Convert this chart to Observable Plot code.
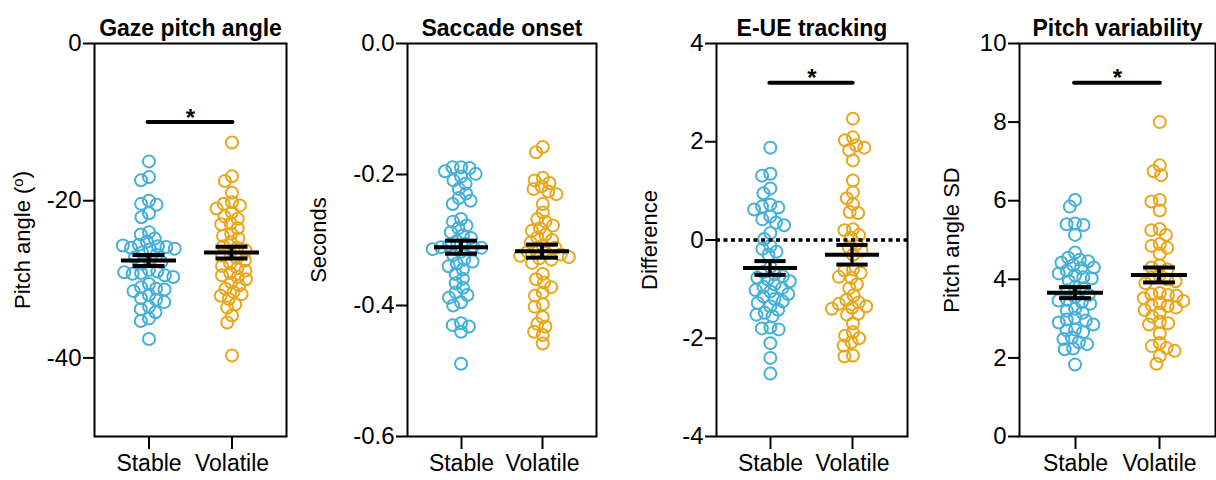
<!DOCTYPE html>
<html><head><meta charset="utf-8">
<script src="https://cdn.jsdelivr.net/npm/d3@7"></script>
<script src="https://cdn.jsdelivr.net/npm/@observablehq/plot@0.6"></script>
<style>
body{margin:0;background:#fff;}
#wrap{position:relative;width:1216px;height:480px;overflow:hidden;background:#fff;}
.panel{position:absolute;top:0;}
.panel svg{overflow:visible;}
svg g[aria-label="y-axis tick"], svg g[aria-label="x-axis tick"]{stroke-width:2px;}
svg .tick line{stroke-width:2px;}
svg g[aria-label="y-axis tick label"]{font-size:24px;}
svg g[aria-label="x-axis tick label"]{font-size:23px;}
</style></head><body><div id="wrap"></div>
<script>
const groups = ["Stable", "Volatile"];
const titles = ["Gaze pitch angle", "Saccade onset", "E-UE tracking", "Pitch variability"];
const yLabels = ["Pitch angle (o)", "Seconds", "Difference", "Pitch angle SD"];
const colors = ["#45b0d9", "#e9a71c"];

// Panel 1: gaze pitch angle (deg)
const pitchStable = [-15.0,-17.0,-17.4,-20.0,-20.4,-20.5,-21.6,-22.1,-24.0,-24.3,-24.8,-25.2,-25.6,-25.8,-25.9,-26.0,-26.2,-26.1,-25.7,-26.6,-26.9,-27.2,-27.5,-27.8,-28.0,-28.8,-29.0,-29.2,-29.3,-29.5,-29.7,-29.1,-30.6,-31.0,-31.2,-31.3,-31.5,-32.0,-32.4,-32.6,-32.9,-33.5,-33.8,-34.2,-35.0,-35.3,-37.6];
const pitchVolatile = [-12.6,-16.9,-17.5,-19.0,-20.2,-20.4,-20.6,-21.0,-21.5,-22.0,-22.3,-22.9,-23.0,-23.5,-24.2,-24.5,-24.8,-25.3,-25.8,-26.0,-26.3,-26.6,-27.0,-27.3,-27.6,-28.0,-28.3,-28.6,-28.9,-29.2,-29.5,-29.7,-30.0,-30.4,-30.8,-31.2,-31.6,-31.9,-32.1,-32.5,-33.2,-33.6,-34.6,-35.5,-39.7];
const pitchMean = [-27.6, -26.6];
const pitchSem = [0.7, 0.75];

// Panel 2: saccade onset (s)
const onsetStable = [-0.189,-0.189,-0.190,-0.195,-0.199,-0.203,-0.209,-0.214,-0.222,-0.229,-0.236,-0.240,-0.245,-0.268,-0.272,-0.278,-0.282,-0.288,-0.293,-0.297,-0.302,-0.306,-0.308,-0.310,-0.311,-0.312,-0.314,-0.318,-0.323,-0.330,-0.333,-0.336,-0.340,-0.345,-0.352,-0.359,-0.366,-0.373,-0.380,-0.384,-0.388,-0.395,-0.400,-0.427,-0.430,-0.432,-0.440,-0.489];
const onsetVolatile = [-0.158,-0.166,-0.205,-0.209,-0.213,-0.218,-0.222,-0.226,-0.230,-0.245,-0.258,-0.268,-0.272,-0.278,-0.282,-0.286,-0.292,-0.296,-0.300,-0.304,-0.308,-0.312,-0.316,-0.318,-0.320,-0.322,-0.324,-0.326,-0.328,-0.330,-0.335,-0.352,-0.360,-0.365,-0.372,-0.380,-0.385,-0.398,-0.402,-0.418,-0.428,-0.432,-0.440,-0.445,-0.458];
const onsetMean = [-0.311, -0.317];
const onsetSem = [0.010, 0.010];

// Panel 3: E-UE tracking difference
const trackStable = [1.88,1.35,1.31,1.05,0.95,0.72,0.68,0.66,0.62,0.48,0.42,0.35,0.30,0.14,0.02,-0.12,-0.18,-0.24,-0.30,-0.55,-0.65,-0.70,-0.74,-0.77,-0.80,-0.84,-0.90,-0.95,-0.98,-1.02,-1.05,-1.10,-1.15,-1.20,-1.25,-1.28,-1.35,-1.42,-1.48,-1.52,-1.55,-1.78,-1.80,-1.82,-2.10,-2.40,-2.72];
const trackVolatile = [2.47,2.09,2.03,1.93,1.88,1.83,1.62,1.21,0.97,0.85,0.73,0.57,0.55,0.22,0.20,0.10,0.05,-0.08,-0.15,-0.22,-0.30,-0.60,-0.62,-0.67,-0.75,-0.77,-0.90,-0.98,-1.13,-1.22,-1.27,-1.30,-1.35,-1.38,-1.40,-1.50,-1.52,-1.70,-1.88,-1.95,-2.00,-2.08,-2.15,-2.35,-2.37];
const trackMean = [-0.57, -0.30];
const trackSem = [0.14, 0.20];

// Panel 4: pitch angle SD
const sdStable = [6.02,5.85,5.42,5.40,5.38,5.13,4.68,4.55,4.50,4.46,4.42,4.36,4.30,4.28,4.22,4.15,4.10,4.05,4.02,3.95,3.80,3.77,3.72,3.60,3.55,3.48,3.46,3.42,3.38,3.25,3.20,3.15,3.02,2.98,2.95,2.90,2.85,2.72,2.70,2.65,2.52,2.48,2.40,2.35,2.24,2.22,1.83];
const sdVolatile = [8.00,6.90,6.75,6.65,6.02,5.98,5.75,5.28,5.25,5.13,4.90,4.85,4.80,4.65,4.35,4.30,4.25,4.10,4.05,4.00,3.95,3.90,3.65,3.62,3.60,3.58,3.52,3.45,3.40,3.35,3.32,3.28,3.22,3.15,3.05,2.92,2.88,2.85,2.62,2.38,2.30,2.25,2.18,2.05,1.85];
const sdMean = [3.66, 4.11];
const sdSem = [0.14, 0.19];

// y axes
const yDomains = [[-50, 0], [-0.6, 0], [-4, 4], [0, 10]];
const yTicks = [[0, -20, -40], [0, -0.2, -0.4, -0.6], [4, 2, 0, -2, -4], [0, 2, 4, 6, 8, 10]];
const sigLevels = [-10, null, 3.2, 9];

const panels = [
  {left: 0,   width: 300, ml: 94,  mr: 14, lab: 72, fmt: d => String(d), s: pitchStable, v: pitchVolatile, m: pitchMean, e: pitchSem},
  {left: 300, width: 300, ml: 107, mr: 4,  lab: 89, fmt: d => d.toFixed(1), s: onsetStable, v: onsetVolatile, m: onsetMean, e: onsetSem},
  {left: 600, width: 310, ml: 116, mr: 3,  lab: 67, fmt: d => String(d), s: trackStable, v: trackVolatile, m: trackMean, e: trackSem, zero: true},
  {left: 910, width: 306, ml: 109, mr: 1,  lab: 68, fmt: d => String(d), s: sdStable, v: sdVolatile, m: sdMean, e: sdSem}
];

const wrap = document.getElementById("wrap");
const PI = 0.337, PO = 0.325;
panels.forEach((p, k) => {
  const inner = p.width - p.ml - p.mr;
  const step = inner / (2 - PI + 2 * PO);
  const bw = step * (1 - PI);
  const stats = groups.map((g, i) => ({g, mean: p.m[i], lo: p.m[i] - p.e[i], hi: p.m[i] + p.e[i]}));
  const marks = [];
  [p.s, p.v].forEach((vals, i) => {
    marks.push(Plot.dot(vals.map(v => ({g: groups[i], v})), Plot.dodgeX({
      anchor: "middle", y: "v", r: 6, padding: -3.5,
      // dodge centres on the frame; shift to each band centre (Plot adds bandwidth/2 itself)
      dx: (i === 0 ? -step / 2 : step / 2) - bw / 2,
      stroke: colors[i], strokeWidth: 2, fill: "none"
    })));
  });
  if (p.zero) marks.push(Plot.ruleY([0], {stroke: "black", strokeWidth: 3.5, strokeDasharray: "4,3.5"}));
  marks.push(Plot.tickY(stats, {x: "g", y: "mean", stroke: "black", strokeWidth: 4}));
  marks.push(Plot.tickY(stats, {x: "g", y: "lo", stroke: "black", strokeWidth: 4, insetLeft: (bw - 32) / 2, insetRight: (bw - 32) / 2}));
  marks.push(Plot.tickY(stats, {x: "g", y: "hi", stroke: "black", strokeWidth: 4, insetLeft: (bw - 32) / 2, insetRight: (bw - 32) / 2}));
  marks.push(Plot.barY(stats, {x: "g", y1: "lo", y2: "hi", fill: "black", insetLeft: (bw - 4) / 2, insetRight: (bw - 4) / 2}));
  if (sigLevels[k] != null) {
    marks.push(Plot.ruleY([{y: sigLevels[k], a: groups[0], b: groups[1]}], {y: "y", x1: "a", x2: "b", stroke: "black", strokeWidth: 4, strokeLinecap: "round", insetLeft: bw / 2 - 1, insetRight: bw / 2 - 1}));
    marks.push(Plot.text([{y: sigLevels[k]}], {y: "y", text: () => "*", frameAnchor: "middle", fontSize: 24, fontWeight: "bold", dy: -4}));
  }
  marks.push(Plot.frame({stroke: "black", strokeWidth: 2}));
  marks.push(Plot.text([titles[k]], {text: d => d, frameAnchor: "top", lineAnchor: "bottom", dy: -8, fontSize: 23, fontWeight: "bold"}));
  marks.push(Plot.text([yLabels[k]], {text: d => d, frameAnchor: "left", textAnchor: "middle", lineAnchor: "middle", rotate: -90, dx: -p.lab, fontSize: 22}));
  const chart = Plot.plot({
    width: p.width, height: 480,
    marginLeft: p.ml, marginRight: p.mr, marginTop: 43, marginBottom: 44,
    style: {fontFamily: "'Liberation Sans', Arial, sans-serif", fontSize: "22px", color: "black", background: "white"},
    x: {type: "band", domain: groups, paddingInner: PI, paddingOuter: PO, tickSize: 13, tickPadding: 5, label: null},
    y: {domain: yDomains[k], ticks: yTicks[k], tickFormat: p.fmt, tickSize: 11, tickPadding: 2, label: null},
    marks
  });
  const div = document.createElement("div");
  div.className = "panel";
  div.style.left = p.left + "px";
  div.appendChild(chart);
  wrap.appendChild(div);
});
// superscript "o" in first y label
document.querySelectorAll("text").forEach(t => {
  if (t.textContent === "Pitch angle (o)") {
    t.textContent = "";
    const ns = "http://www.w3.org/2000/svg";
    const a = document.createElementNS(ns, "tspan"); a.textContent = "Pitch angle (";
    const b = document.createElementNS(ns, "tspan"); b.textContent = "o"; b.setAttribute("dy", "-0.45em"); b.setAttribute("font-size", "0.68em");
    const c = document.createElementNS(ns, "tspan"); c.textContent = ")"; c.setAttribute("dy", "0.3em");
    t.append(a, b, c);
  }
});
</script></body></html>
